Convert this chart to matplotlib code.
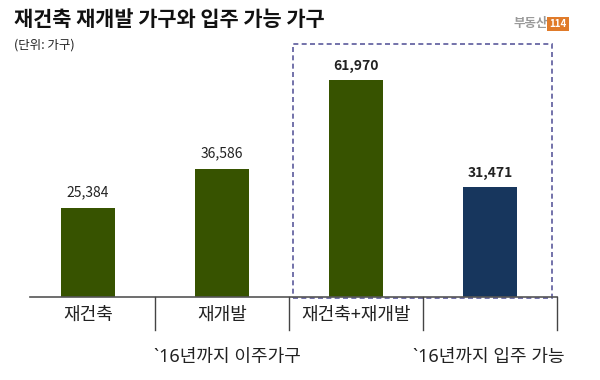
import matplotlib.pyplot as plt
from matplotlib.patches import Rectangle

plt.rcParams['font.family'] = ['Noto Sans CJK KR', 'DejaVu Sans']

# 데이터
categories = ['재건축', '재개발', '재건축+재개발', '']
values = [25384, 36586, 61970, 31471]
value_labels = ['25,384', '36,586', '61,970', '31,471']
bold_labels = [False, False, True, True]
colors = ['#375300', '#375300', '#375300', '#17365d']
group_labels = ['`16년까지 이주가구', '`16년까지 입주 가능']
group_pos = [1.04, 2.99]

fig = plt.figure(figsize=(6, 3.8), dpi=100)
ax = fig.add_axes([0, 83 / 380, 1, 297 / 380])
per_px = 61970 / 217
ax.set_xlim(-88 / 134, 512 / 134)
ax.set_ylim(0, 297 * per_px)
ax.axis('off')

x = range(len(values))
ax.bar(x, values, width=0.40, color=colors)
for i, v in enumerate(values):
    ax.annotate(value_labels[i], (i, v), xytext=(0, 5 if bold_labels[i] else 6),
                textcoords='offset points', ha='center', va='bottom', fontsize=10,
                fontweight='bold' if bold_labels[i] else 'normal', color='#222222')

# 축선과 구분선
ax.plot([-0.43, 3.5], [0, 0], color='#555555', lw=1.2, clip_on=False)
for sx in [0.5, 1.5, 2.5, 3.5]:
    ax.plot([sx, sx], [0, -33 * per_px], color='#444444', lw=1, clip_on=False)

for i, c in enumerate(categories):
    ax.text(i, -18 * per_px, c, ha='center', va='center', fontsize=13, color='#222222',
            fontweight='medium')
for gx, g in zip(group_pos, group_labels):
    ax.text(gx, -60 * per_px, g, ha='center', va='center', fontsize=13, color='#222222',
            family=['Noto Sans', 'Noto Sans CJK KR'], fontweight='medium')

# 점선 박스
ax.add_patch(Rectangle((1.53, -1 * per_px), 3.46 - 1.53, 254 * per_px, fill=False,
                       edgecolor='#5b5a9c', ls=(0, (3, 2)), lw=1.2, clip_on=False))

fig.text(14 / 600, 1 - 20 / 380, '재건축 재개발 가구와 입주 가능 가구', fontsize=15,
         fontweight='bold', va='center', ha='left', color='#111111')
fig.text(14 / 600, 1 - 45 / 380, '(단위: 가구)', fontsize=9, va='center', ha='left',
         color='#222222')
fig.text(548 / 600, 1 - 24 / 380, '부동산', fontsize=9, va='center', ha='right',
         color='#9a9a9a', fontweight='bold')
fig.text(558 / 600, 1 - 24 / 380, '114', fontsize=7, va='center', ha='center',
         color='white', fontweight='bold',
         bbox=dict(boxstyle='square,pad=0.25', fc='#e07b2a', ec='none'))

fig.savefig('out.png', dpi=100)
